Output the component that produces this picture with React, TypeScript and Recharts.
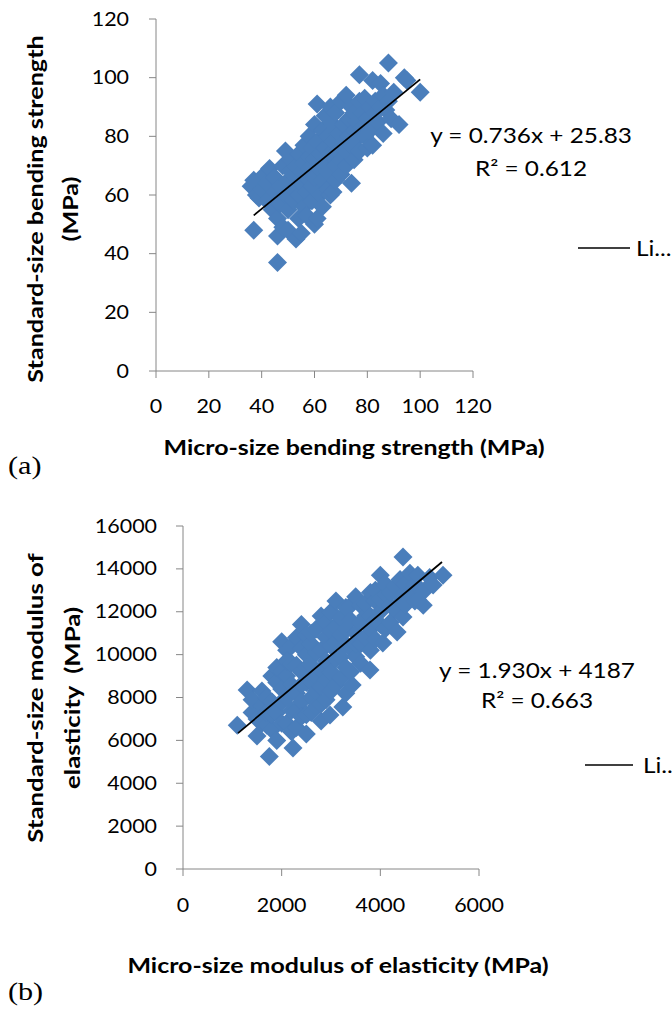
import { ScatterChart, Scatter, XAxis, YAxis } from 'recharts';

const FONT = 'Lato, "Open Sans", sans-serif';
const BLUE = '#4a7ebb';
const AXIS_GRAY = '#868686';
const SX = 1.16; // the source figure's text is a bit wider than Lato

// (a) bending strength: [micro-size, standard-size] in MPa
const strengthPoints: [number, number][] = [
  [36, 63], [37, 65], [37, 48], [38, 60], [39, 59], [40, 62], [41, 67], [42, 64], [43, 69], [42, 58],
  [44, 55], [45, 61], [45, 66], [46, 37], [46, 46], [46, 52], [47, 57], [47, 63], [48, 70], [48, 49],
  [49, 75], [49, 60], [50, 55], [50, 65], [50, 48], [51, 68], [51, 72], [52, 58], [52, 62], [53, 45],
  [53, 66], [53, 70], [54, 52], [54, 60], [54, 74], [55, 47], [55, 64], [55, 68], [56, 71], [56, 56],
  [56, 77], [57, 61], [57, 66], [57, 53], [58, 73], [58, 69], [58, 80], [59, 58], [59, 63], [59, 76],
  [60, 50], [60, 66], [60, 72], [60, 84], [61, 91], [61, 52], [61, 78], [62, 69], [62, 60], [62, 74],
  [63, 82], [63, 65], [63, 56], [64, 76], [64, 71], [64, 87], [65, 62], [65, 80], [65, 68], [66, 60],
  [66, 74], [66, 90], [67, 61], [67, 78], [67, 84], [68, 70], [68, 65], [68, 88], [69, 75], [69, 81],
  [70, 72], [70, 67], [70, 92], [71, 78], [71, 84], [72, 94], [72, 70], [72, 75], [73, 80], [73, 86],
  [74, 64], [74, 77], [74, 90], [75, 82], [75, 72], [75, 88], [76, 79], [76, 85], [77, 101], [77, 75],
  [77, 92], [78, 83], [78, 88], [79, 80], [79, 93], [80, 86], [80, 76], [81, 90], [81, 82], [82, 99],
  [82, 77], [83, 88], [83, 92], [84, 85], [85, 98], [85, 90], [86, 81], [86, 94], [87, 89], [88, 105],
  [88, 92], [89, 86], [90, 95], [92, 84], [94, 100], [95, 99], [100, 95],
];
const strengthTicks = [0, 20, 40, 60, 80, 100, 120];
const strengthFit = { slope: 0.736, intercept: 25.83, from: 37, to: 100 };

// (b) modulus of elasticity: [micro-size, standard-size] in MPa
const moePoints: [number, number][] = [
  [1100, 6700], [1300, 8350], [1400, 7300], [1400, 7900], [1500, 6200], [1500, 7000], [1600, 6800],
  [1600, 7600], [1600, 8300], [1750, 5250], [1700, 8000], [1700, 6700], [1700, 7300], [1800, 6500],
  [1800, 7200], [1800, 7800], [1800, 9000], [1900, 8700], [1900, 9400], [1900, 6000], [1900, 7300],
  [2000, 10600], [2000, 7800], [2000, 8400], [2000, 9200], [2000, 6800], [2100, 9000], [2100, 6800],
  [2100, 10200], [2100, 8000], [2100, 9700], [2230, 5640], [2200, 7400], [2200, 9600], [2200, 8600],
  [2200, 10400], [2200, 6400], [2300, 8200], [2300, 10800], [2300, 6600], [2300, 7400], [2300, 9500],
  [2400, 11400], [2400, 9200], [2400, 7800], [2400, 8600], [2400, 10300], [2400, 7100], [2500, 8700],
  [2500, 10000], [2500, 6300], [2500, 7200], [2500, 9400], [2500, 10900], [2600, 9500], [2600, 10500],
  [2600, 8000], [2600, 8700], [2600, 11000], [2600, 7300], [2700, 11200], [2700, 9000], [2700, 7600],
  [2700, 8300], [2700, 10100], [2800, 10200], [2800, 8500], [2800, 11800], [2800, 6900], [2800, 9300],
  [2800, 7700], [2900, 9700], [2900, 10800], [2900, 7900], [2900, 11500], [2900, 8800], [3000, 12000],
  [3000, 9200], [2980, 7180], [3000, 10400], [3000, 11100], [3000, 8300], [3100, 8600], [3100, 11300],
  [3100, 12500], [3100, 9800], [3100, 10600], [3200, 9900], [3240, 7560], [3200, 10900], [3200, 11700],
  [3200, 8900], [3300, 12200], [3300, 9400], [3300, 8200], [3300, 10500], [3300, 11200], [3400, 11600],
  [3400, 10300], [3430, 8580], [3400, 9200], [3400, 12300], [3500, 12700], [3500, 9900], [3500, 11000],
  [3500, 10500], [3600, 12300], [3600, 10500], [3600, 11500], [3600, 9600], [3700, 11800], [3790, 9280],
  [3700, 12400], [3700, 10800], [3800, 12900], [3800, 11200], [3800, 10200], [3800, 11800], [3900, 12500],
  [3900, 11600], [3900, 10700], [3900, 13000], [4000, 13700], [4050, 10540], [4000, 12000], [4000, 11400],
  [4000, 12600], [4100, 11200], [4100, 12800], [4100, 13300], [4200, 12300], [4200, 11500], [4200, 12900],
  [4300, 13200], [4340, 11050], [4300, 12100], [4400, 12700], [4460, 11750], [4400, 13500], [4460, 14550],
  [4500, 13300], [4500, 12300], [4600, 13800], [4600, 12900], [4700, 12500], [4700, 13300], [4760, 13700],
  [4870, 12300], [4760, 12550], [4900, 13000], [5000, 13600], [5070, 13250], [5270, 13700],
];
const moeXTicks = [0, 2000, 4000, 6000];
const moeYTicks = [0, 2000, 4000, 6000, 8000, 10000, 12000, 14000, 16000];
const moeFit = { slope: 1.93, intercept: 4187, from: 1115, to: 5250 };

const Diamond = (props: any) => {
  const { cx, cy } = props;
  const r = 9.5;
  return (
    <polygon
      points={`${cx},${cy - r} ${cx + r},${cy} ${cx},${cy + r} ${cx - r},${cy}`}
      fill={BLUE}
    />
  );
};

const NoMarker = () => <g />;

const XTick = (props: any) => {
  const { x, y, payload } = props;
  return (
    <text
      transform={`translate(${x},${y}) scale(${SX},1)`}
      textAnchor="middle"
      dy="0.71em"
      fontSize={18.5}
      fontFamily={FONT}
      fill="#000"
    >
      {payload.value}
    </text>
  );
};

const YTick = (props: any) => {
  const { x, y, payload } = props;
  return (
    <text
      transform={`translate(${x},${y}) scale(${SX},1)`}
      textAnchor="end"
      dy="0.355em"
      fontSize={18.5}
      fontFamily={FONT}
      fill="#000"
    >
      {payload.value}
    </text>
  );
};

function fitSegment(fit: { slope: number; intercept: number; from: number; to: number }) {
  return [
    { x: fit.from, y: fit.slope * fit.from + fit.intercept },
    { x: fit.to, y: fit.slope * fit.to + fit.intercept },
  ];
}

// horizontal text, or text turned to read bottom-to-top; both stretched along the line
const Txt = ({ x, y, rotate, stretch = SX, anchor = 'middle', children }: any) => (
  <text
    transform={
      rotate
        ? `translate(${x},${y}) rotate(-90) scale(${stretch},1)`
        : `translate(${x},${y}) scale(${stretch},1)`
    }
    textAnchor={anchor}
    style={{ whiteSpace: 'pre' }}
  >
    {children}
  </text>
);

export default function App() {
  const strengthData = strengthPoints.map(([x, y]) => ({ x, y }));
  const moeData = moePoints.map(([x, y]) => ({ x, y }));

  return (
    <div
      style={{
        position: 'absolute',
        left: 0,
        top: 0,
        width: 672,
        height: 1010,
        overflow: 'hidden',
        background: '#fff',
      }}
    >
      {/* (a) bending strength */}
      <div style={{ position: 'absolute', left: 0, top: 0 }}>
        <ScatterChart width={672} height={480} margin={{ top: 19, right: 199, left: 0, bottom: 79 }}>
          <XAxis
            type="number"
            dataKey="x"
            domain={[0, 120]}
            ticks={strengthTicks}
            height={30}
            stroke={AXIS_GRAY}
            tickSize={7}
            tickMargin={22}
            tick={<XTick />}
          />
          <YAxis
            type="number"
            dataKey="y"
            domain={[0, 120]}
            ticks={strengthTicks}
            width={156}
            stroke={AXIS_GRAY}
            tickSize={7}
            tickMargin={20}
            tick={<YTick />}
          />
          <Scatter data={strengthData} shape={Diamond} isAnimationActive={false} />
          <Scatter
            data={fitSegment(strengthFit)}
            shape={NoMarker}
            fill="#000"
            line={{ stroke: '#000', strokeWidth: 1.75 }}
            isAnimationActive={false}
          />
        </ScatterChart>
      </div>

      {/* (b) modulus of elasticity */}
      <div style={{ position: 'absolute', left: 0, top: 480 }}>
        <ScatterChart width={672} height={530} margin={{ top: 46, right: 193, left: 0, bottom: 111 }}>
          <XAxis
            type="number"
            dataKey="x"
            domain={[0, 6000]}
            ticks={moeXTicks}
            height={30}
            stroke={AXIS_GRAY}
            tickSize={7}
            tickMargin={23}
            tick={<XTick />}
          />
          <YAxis
            type="number"
            dataKey="y"
            domain={[0, 16000]}
            ticks={moeYTicks}
            width={183}
            stroke={AXIS_GRAY}
            tickSize={7}
            tickMargin={19}
            tick={<YTick />}
          />
          <Scatter data={moeData} shape={Diamond} isAnimationActive={false} />
          <Scatter
            data={fitSegment(moeFit)}
            shape={NoMarker}
            fill="#000"
            line={{ stroke: '#000', strokeWidth: 1.75 }}
            isAnimationActive={false}
          />
        </ScatterChart>
      </div>

      {/* titles, equations, legends */}
      <svg
        width={672}
        height={1010}
        style={{ position: 'absolute', left: 0, top: 0, pointerEvents: 'none' }}
        fontFamily={FONT}
        fill="#000"
      >
        <g fontWeight="bold" fontSize={21.5}>
          <Txt x={43} y={209} rotate stretch={1.17}>Standard-size bending strength</Txt>
          <Txt x={78} y={209} rotate stretch={1.17}>(MPa)</Txt>
          <Txt x={354} y={455}>Micro-size bending strength (MPa)</Txt>

          <Txt x={43} y={698} rotate stretch={1.2}>Standard-size modulus of</Txt>
          <Txt x={80} y={698} rotate stretch={1.2}>elasticity  (MPa)</Txt>
          <Txt x={338} y={973}>Micro-size modulus of elasticity (MPa)</Txt>
        </g>

        <g fontSize={21}>
          <Txt x={531} y={143}>y = 0.736x + 25.83</Txt>
          <Txt x={531} y={176}>R² = 0.612</Txt>
          <Txt x={537} y={678}>y = 1.930x + 4187</Txt>
          <Txt x={537} y={708}>R² = 0.663</Txt>
          <Txt x={636} y={256} anchor="start">Li...</Txt>
          <Txt x={643} y={773} anchor="start">Li..</Txt>
        </g>

        <line x1={578} y1={248} x2={630} y2={248} stroke="#000" strokeWidth={1.5} />
        <line x1={585} y1={765} x2={633} y2={765} stroke="#000" strokeWidth={1.5} />

        <g fontFamily='"Liberation Serif", "Times New Roman", serif' fontSize={26}>
          <Txt x={8} y={474} anchor="start">(a)</Txt>
          <Txt x={8} y={1000} anchor="start">(b)</Txt>
        </g>
      </svg>
    </div>
  );
}
